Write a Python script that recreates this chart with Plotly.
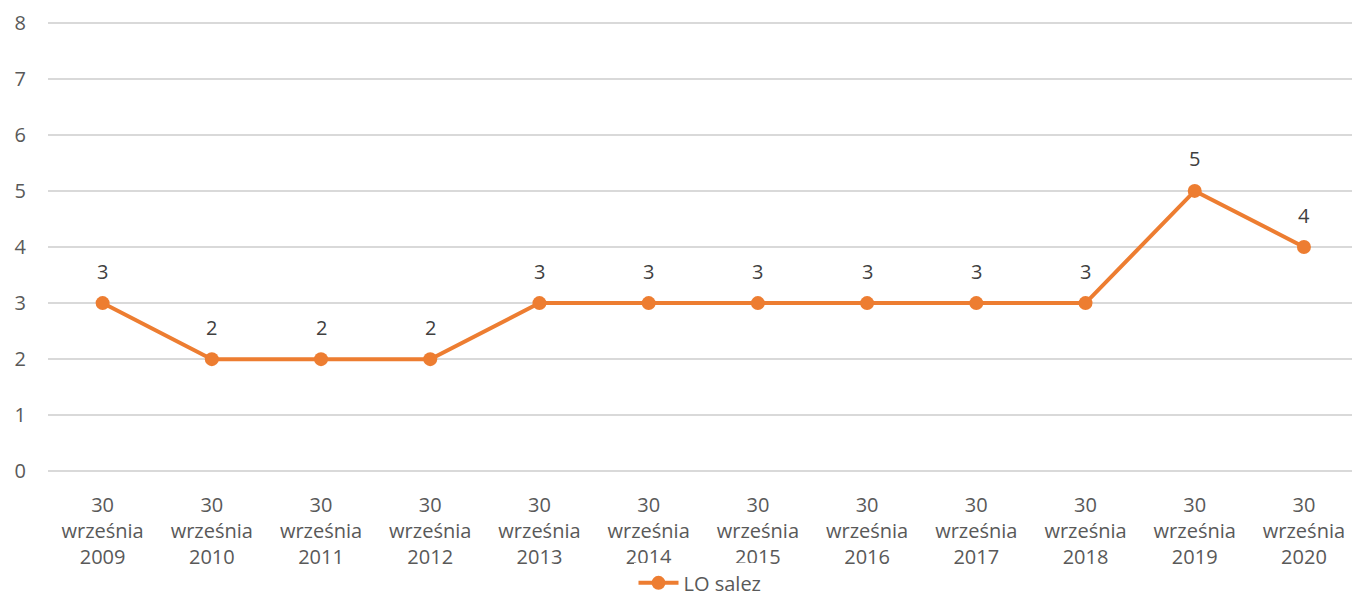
import plotly.graph_objects as go

years = ["2009", "2010", "2011", "2012", "2013", "2014", "2015", "2016", "2017", "2018", "2019", "2020"]
tick_labels = ["30<br>września<br>" + y for y in years]
values = [3, 2, 2, 2, 3, 3, 3, 3, 3, 3, 5, 4]
series_name = "LO salez"

orange = "#ED7D31"
font_family = "Open Sans, Liberation Sans, sans-serif"
fs = 20

fig = go.Figure()
fig.add_trace(go.Scatter(
    x=list(range(len(years))), y=values, name=series_name,
    mode="lines+markers",
    line=dict(color=orange, width=4),
    marker=dict(color=orange, size=14),
    showlegend=True,
))

for i, v in enumerate(values):
    fig.add_annotation(x=i, y=v, text=str(v), showarrow=False, yshift=32,
                       font=dict(size=fs, color="#404040", family=font_family))

fig.update_layout(
    width=1352, height=596,
    margin=dict(l=48, r=0, t=21.3, b=123.3, autoexpand=False),
    plot_bgcolor="white", paper_bgcolor="white",
    font=dict(family=font_family, size=fs, color="#595959"),
    showlegend=True,
    legend=dict(orientation="h", x=0.5, xanchor="center", y=-0.243, yanchor="middle",
                font=dict(size=fs, color="#595959"), itemwidth=40),
    xaxis=dict(
        tickmode="array", tickvals=list(range(len(years))), ticktext=tick_labels,
        range=[-0.5, 11.44], showgrid=False, zeroline=False, showline=False,
        ticks="", tickfont=dict(size=fs, color="#595959"),
        automargin=False, ticklabelstandoff=18,
    ),
    yaxis=dict(
        range=[-0.03, 8.03], tickvals=list(range(9)), showgrid=True,
        gridcolor="#D9D9D9", gridwidth=1.5,
        zeroline=False, showline=False, ticks="", ticklabelstandoff=21,
        tickfont=dict(size=fs, color="#595959"), automargin=False,
    ),
)

fig.write_html(
    "out.html",
    config={"displayModeBar": False},
    post_script="document.body.style.margin='0';document.body.style.overflow='hidden';",
)
